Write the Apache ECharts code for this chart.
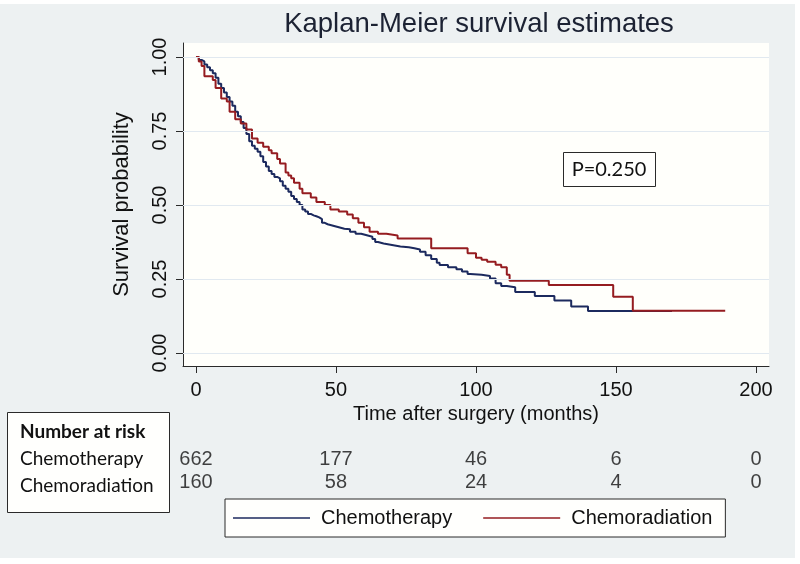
<!DOCTYPE html>
<html>
<head>
<meta charset="utf-8">
<script src="https://cdn.jsdelivr.net/npm/echarts@6/dist/echarts.min.js"></script>
<style>
  html, body { margin: 0; padding: 0; background: #fff; }
  #chart { width: 800px; height: 564px; }
</style>
</head>
<body>
<div id="chart"></div>
<script>
// Kaplan-Meier curves, [months, survival]
var chemoCurve = [
  [0,1],[1,0.99],[2,0.985],[3,0.975],[4,0.965],[5,0.955],[6,0.945],[7,0.93],[8,0.91],[9,0.895],
  [10,0.88],[11,0.865],[12,0.85],[13,0.835],[14,0.815],[15,0.8],[16,0.78],[17,0.76],[18,0.74],[19,0.715],
  [20,0.7],[21,0.69],[22,0.68],[23,0.665],[24,0.645],[25,0.63],[26,0.615],[27,0.605],[28,0.595],[29,0.59],
  [30,0.58],[31,0.565],[32,0.555],[33,0.545],[34,0.53],[35,0.52],[36,0.51],[37,0.5],[38,0.485],[39,0.478],
  [40,0.47],[41,0.465],[42,0.462],[43,0.458],[44,0.452],[45,0.44],[46,0.435],[47,0.43],[49,0.425],[51,0.42],
  [53,0.418],[55,0.41],[57,0.403],[59,0.398],[61,0.393],[63,0.385],[64,0.375],[65,0.37],[67,0.365],[70,0.36],
  [73,0.357],[76,0.354],[78,0.35],[80,0.342],[82,0.33],[84,0.318],[86,0.305],[87,0.297],[90,0.29],[93,0.283],
  [95,0.275],[97,0.267],[98,0.264],[102,0.26],[105,0.252],[107,0.236],[109,0.226],[111,0.222],[114,0.206],
  [121,0.193],[128,0.177],[134,0.157],[140,0.142],[170,0.142]
];
var radCurve = [
  [0,1],[1,0.985],[2,0.97],[3,0.935],[6,0.922],[7,0.895],[9,0.86],[11,0.85],[12,0.815],[14,0.79],
  [16,0.775],[18,0.755],[20,0.725],[22,0.71],[24,0.697],[26,0.685],[27,0.675],[29,0.655],[30,0.64],[32,0.61],
  [33,0.6],[34,0.59],[35,0.575],[37,0.555],[38,0.54],[41,0.525],[43,0.51],[46,0.5],[48,0.485],[51,0.478],
  [54,0.468],[56,0.455],[58,0.44],[60,0.425],[62,0.41],[65,0.403],[68,0.397],[72,0.387],[84,0.354],[97,0.337],
  [100,0.322],[102,0.315],[104,0.308],[107,0.298],[109,0.29],[111,0.264],[112,0.244],[126,0.23],[149,0.19],
  [156,0.143],[189,0.143]
];

var xTicks = [0, 50, 100, 150, 200];
var yTicks = [0, 0.25, 0.5, 0.75, 1];
var groups = ["Chemotherapy", "Chemoradiation"];
var riskChemo = [662, 177, 46, 6, 0];
var riskRad = [160, 58, 24, 4, 0];
var pText = "P=0.250";

var blue = "#1c2a5e", red = "#951c20";
var axisFont = "Liberation Sans, Arial, sans-serif";
var tableFont = "Lato, 'Open Sans', sans-serif";

// at-risk numbers placed on the same time scale as the plot
var riskPoints = [];
xTicks.forEach(function (t, i) {
  riskPoints.push([t, 1, riskChemo[i]]);
  riskPoints.push([t, 0, riskRad[i]]);
});

var chart = echarts.init(document.getElementById('chart'));
var option = {
  animation: false,
  backgroundColor: '#fff',
  graphic: [
    { type: 'rect', z: -10, shape: { x: 0, y: 4, width: 795, height: 554 }, style: { fill: '#edf1f2' } },
    { type: 'rect', z: -9, shape: { x: 183, y: 43, width: 586, height: 323 }, style: { fill: '#fffffb' } },
    { type: 'text', x: 479, y: 24, style: { text: 'Kaplan-Meier survival estimates', font: '27.5px ' + axisFont,
      fill: '#1c2233', textAlign: 'center', textVerticalAlign: 'middle' } },
    { type: 'rect', shape: { x: 563.5, y: 152.5, width: 92, height: 34 }, style: { fill: '#fffffd', stroke: '#2a2a2a', lineWidth: 1 } },
    { type: 'text', x: 609, y: 170, style: { text: pText, font: '20px ' + tableFont, fill: '#111',
      textAlign: 'center', textVerticalAlign: 'middle' } },
    { type: 'rect', shape: { x: 7.5, y: 412.5, width: 162, height: 100 }, style: { fill: '#fffffd', stroke: '#2a2a2a', lineWidth: 1 } },
    { type: 'text', x: 20, y: 432, style: { text: 'Number at risk', font: 'bold 19px ' + tableFont, fill: '#111', textVerticalAlign: 'middle' } },
    { type: 'text', x: 20, y: 459, style: { text: groups[0], font: '19px ' + tableFont, fill: '#111', textVerticalAlign: 'middle' } },
    { type: 'text', x: 20, y: 486, style: { text: groups[1], font: '19px ' + tableFont, fill: '#111', textVerticalAlign: 'middle' } }
  ],
  legend: {
    data: groups,
    left: 225, top: 499,
    padding: [9, 13, 9, 8],
    icon: 'rect',
    itemWidth: 77, itemHeight: 1.5, itemGap: 31,
    backgroundColor: '#fffffd', borderColor: '#2a2a2a', borderWidth: 1,
    textStyle: { fontFamily: axisFont, fontSize: 20, color: '#111', padding: [0, 0, 0, 6] }
  },
  grid: [
    { left: 183, right: 31, top: 43, bottom: 198 },
    { left: 183, right: 31, top: 459, bottom: 82 }
  ],
  xAxis: [
    {
      type: 'value', gridIndex: 0, min: -4.64, max: 204.64,
      name: 'Time after surgery (months)', nameLocation: 'middle', nameGap: 35,
      nameTextStyle: { fontFamily: axisFont, fontSize: 20, color: '#111' },
      axisLine: { onZero: false, lineStyle: { color: '#2a2a2a', width: 1 } },
      axisTick: { show: true, length: 7, customValues: xTicks, lineStyle: { color: '#2a2a2a' } },
      axisLabel: { customValues: xTicks, margin: 14, fontFamily: axisFont, fontSize: 20, color: '#111' },
      splitLine: { show: false }
    },
    { type: 'value', gridIndex: 1, min: -4.64, max: 204.64, show: false }
  ],
  yAxis: [
    {
      type: 'value', gridIndex: 0, min: -0.0439, max: 1.0473,
      name: 'Survival probability', nameLocation: 'middle', nameGap: 50,
      nameTextStyle: { fontFamily: axisFont, fontSize: 22, color: '#111' },
      axisLine: { show: true, onZero: false, lineStyle: { color: '#2a2a2a', width: 1 } },
      axisTick: { show: true, length: 7, customValues: yTicks, lineStyle: { color: '#2a2a2a' } },
      axisLabel: { customValues: yTicks, rotate: 90, margin: 13, fontFamily: axisFont, fontSize: 20, color: '#111',
        formatter: function (v) { return v.toFixed(2); } },
      splitLine: { show: false }
    },
    { type: 'value', gridIndex: 1, min: 0, max: 1, show: false }
  ],
  series: [
    {
      name: 'gridlines', type: 'line', data: [], z: 1, silent: true,
      markLine: {
        silent: true, symbol: 'none', label: { show: false },
        lineStyle: { color: '#e1e9f0', width: 1.2, type: 'solid' },
        data: yTicks.map(function (v) { return { yAxis: v }; })
      }
    },
    {
      name: groups[0], type: 'line', step: 'end', symbol: 'none', z: 3,
      data: chemoCurve, color: blue, lineStyle: { color: blue, width: 2 }
    },
    {
      name: groups[1], type: 'line', step: 'end', symbol: 'none', z: 4,
      data: radCurve, color: red, lineStyle: { color: red, width: 2 }
    },
    {
      name: 'atRisk', type: 'scatter', xAxisIndex: 1, yAxisIndex: 1, silent: true,
      symbolSize: 1, itemStyle: { color: 'rgba(0,0,0,0)' },
      label: { show: true, position: 'inside', fontFamily: axisFont, fontSize: 20, color: '#111',
        formatter: function (p) { return p.value[2]; } },
      data: riskPoints
    }
  ]
};
chart.setOption(option);
</script>
</body>
</html>
